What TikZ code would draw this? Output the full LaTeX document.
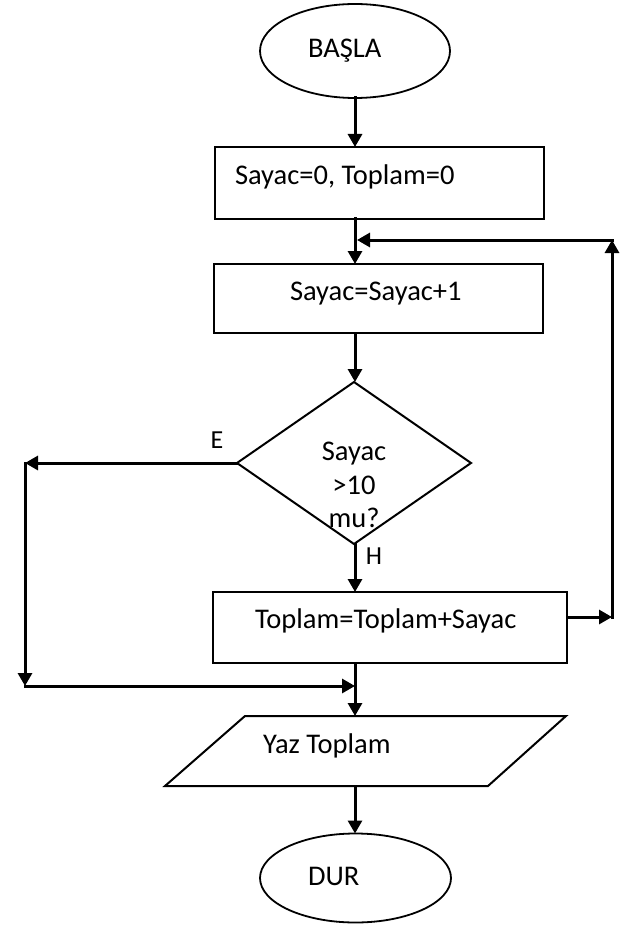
\documentclass[tikz,border=0pt]{standalone}
\usepackage{fontspec}
\setmainfont{Carlito}
\usetikzlibrary{arrows.meta,shapes.geometric}
\begin{document}
\begin{tikzpicture}[x=1pt,y=-1pt,
  arr/.style={line width=3pt,line cap=rect,-{Triangle[length=13pt,width=14pt]}},
  box/.style={draw,line width=2.8pt,rectangle,inner sep=0pt,outer sep=0pt},
  oval/.style={draw,line width=1.8pt,ellipse,inner sep=0pt,outer sep=0pt},
  dec/.style={draw,line width=2pt,diamond,inner sep=0pt,outer sep=0pt},
  txt/.style={inner sep=0pt,outer sep=0pt,font=\fontsize{28.5}{34}\selectfont},
  lbl/.style={inner sep=0pt,outer sep=0pt,font=\fontsize{26}{30}\selectfont}]
\useasboundingbox[fill=white] (0,0) rectangle (620,925);
\coordinate (spine) at (355,0);
% shapes
\node[oval,minimum width=190pt,minimum height=94pt] (start) at (355,51) {};
\node[box,minimum width=329pt,minimum height=72pt] (init) at (379.5,183) {};
\node[box,minimum width=329pt,minimum height=69pt] (inc) at (378.5,298.5) {};
\node[dec,minimum width=234pt,minimum height=162pt] (cond) at (354,463) {};
\node[box,minimum width=354pt,minimum height=71pt] (sum) at (390,627.5) {};
\coordinate (pTL) at (245,716);
\coordinate (pTR) at (566,716);
\coordinate (pBR) at (488,786);
\coordinate (pBL) at (165,786);
\draw[line width=2pt,line join=miter] (pTL) -- (pTR) -- (pBR) -- (pBL) -- cycle;
\node[oval,minimum width=191pt,minimum height=89pt] (stop) at (355.5,878) {};
% texts
\node[txt,anchor=base west] (tstart) at (308,58) {BAŞLA};
\node[txt,anchor=base west] (tinit) at (235,185) {Sayac=0, Toplam=0};
\node[txt,anchor=base west] (tinc) at (290,300) {Sayac=Sayac+1};
\node[txt,anchor=base] (tc1) at (354,460) {Sayac};
\node[txt,anchor=base] (tc2) at (354,494) {>10};
\node[txt,anchor=base] (tc3) at (354,527) {mu?};
\node[txt,anchor=base west] (tsum) at (255,628) {Toplam=Toplam+Sayac};
\node[txt,anchor=base west] (tout) at (263,753) {Yaz Toplam};
\node[txt,anchor=base west] (tstop) at (308,885) {DUR};
\node[lbl,anchor=base] (lE) at (217,448) {E};
\node[lbl,anchor=base] (lH) at (374,564) {H};
% connector points
\coordinate (lt) at (25,463);
\coordinate (lb) at (25,686);
\coordinate (rb) at (612,617);
\coordinate (rt) at (612,240);
% connectors
\draw[arr] (start.south -| spine) -- (init.north -| spine);
\draw[arr] (init.south -| spine) -- (inc.north -| spine);
\draw[arr] (inc.south -| spine) -- (cond.north -| spine);
\draw[arr] (cond.south -| spine) -- (sum.north -| spine);
\draw[arr] (sum.south -| spine) -- (pTL -| spine);
\draw[arr] (pBL -| spine) -- (stop.north -| spine);
\draw[arr] (cond.west) -- (lt);
\draw[arr] (lt) -- (lb);
\draw[arr] (lb) -- (lb -| spine);
\draw[arr] (sum.east |- rb) -- (rb);
\draw[arr] (rb) -- (rt);
\draw[arr] (rt) -- ([xshift=2pt]spine |- rt);
\end{tikzpicture}
\end{document}
